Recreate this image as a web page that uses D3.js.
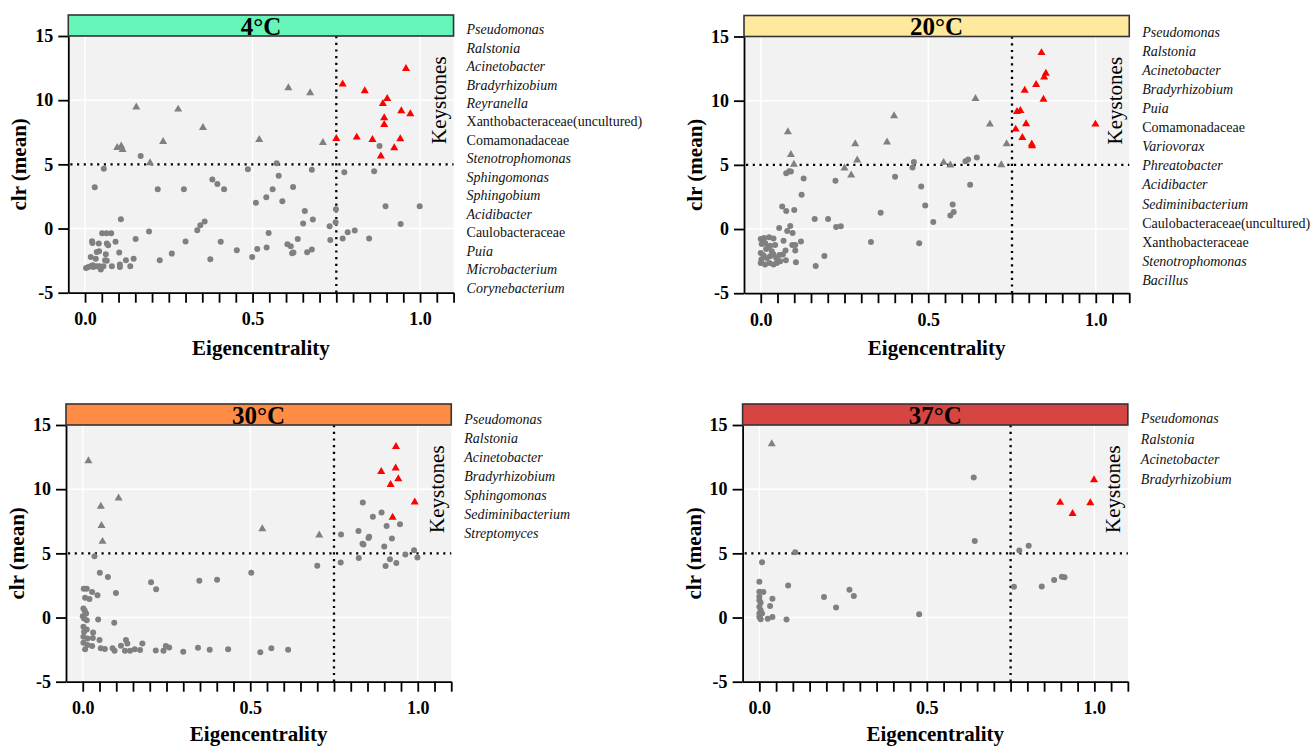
<!DOCTYPE html>
<html>
<head>
<meta charset="utf-8">
<script src="https://cdn.jsdelivr.net/npm/d3@7"></script>
<style>
  body { margin: 0; background: #fff; }
  svg { display: block; }
  text { font-family: "Liberation Serif", "Times New Roman", serif; }
</style>
</head>
<body>
<svg id="chart" width="1312" height="746"></svg>
<script>
// ---- data: [eigencentrality, clr(mean)] per taxon ----
const panelTitles = ["4°C", "20°C", "30°C", "37°C"];

// 4 °C
const keystones4 = [[0.958,12.46],[0.769,11.24],[0.835,10.72],[0.902,10.12],[0.889,9.73],[0.944,9.16],[0.971,8.93],[0.893,8.61],[0.893,8.10],[0.750,7.00],[0.811,7.11],[0.858,6.93],[0.941,6.98],[0.923,6.28],[0.883,5.63]];
const hubs4 = [[0.607,10.95],[0.672,10.56],[0.153,9.45],[0.278,9.29],[0.352,7.86],[0.233,6.77],[0.520,6.93],[0.710,6.69],[0.096,6.30],[0.108,6.41],[0.112,6.15],[0.194,5.11]];
const others4 = [[0.879,6.43],[0.774,4.39],[0.863,4.46],[0.677,4.57],[0.572,5.09],[0.486,4.62],[0.056,4.65],[0.029,3.22],[0.166,5.65],[0.578,4.12],[0.380,3.81],[0.395,3.47],[0.415,3.06],[0.217,3.06],[0.295,3.06],[0.621,3.24],[0.560,3.06],[0.541,2.44],[0.510,2.00],[0.589,2.13],[0.897,1.74],[0.999,1.74],[0.749,1.50],[0.656,1.37],[0.680,0.70],[0.651,0.39],[0.748,0.49],[0.942,0.36],[0.107,0.72],[0.357,0.54],[0.344,0.26],[0.335,-0.13],[0.191,-0.24],[0.548,-0.34],[0.730,0.18],[0.805,-0.16],[0.784,-0.29],[0.769,-0.78],[0.732,-0.89],[0.848,-0.78],[0.635,-0.81],[0.604,-1.22],[0.614,-1.38],[0.622,-1.87],[0.618,-1.92],[0.663,-1.85],[0.677,-1.64],[0.542,-1.48],[0.514,-1.59],[0.499,-2.21],[0.453,-1.69],[0.405,-1.04],[0.374,-2.39],[0.300,-1.01],[0.259,-1.95],[0.223,-2.47],[0.151,-0.81],[0.145,-2.36],[0.135,-2.93],[0.122,-2.47],[0.102,-1.87],[0.104,-2.80],[0.091,-1.04],[0.064,-0.37],[0.078,-0.37],[0.051,-0.37],[0.021,-0.99],[0.022,-1.12],[0.041,-1.17],[0.065,-1.17],[0.069,-1.30],[0.035,-1.82],[0.042,-1.77],[0.017,-2.21],[0.062,-2.00],[0.065,-2.52],[0.032,-2.36],[0.023,-2.86],[0.035,-2.93],[0.047,-3.20],[0.003,-3.07],[0.010,-3.00],[0.017,-2.93],[0.025,-3.00],[0.055,-2.93],[0.080,-2.93],[0.104,-3.00],[0.043,-2.93],[0.060,-2.47]];
const taxa4 = ["Pseudomonas","Ralstonia","Acinetobacter","Bradyrhizobium","Reyranella","Xanthobacteraceae(uncultured)","Comamonadaceae","Stenotrophomonas","Sphingomonas","Sphingobium","Acidibacter","Caulobacteraceae","Puia","Microbacterium","Corynebacterium"];

// 20 °C
const keystones20 = [[0.838,13.73],[0.851,12.12],[0.846,11.84],[0.822,11.24],[0.788,10.80],[0.844,10.10],[0.999,8.16],[0.765,9.15],[0.775,9.22],[0.792,8.19],[0.761,7.77],[0.781,7.12],[0.809,6.61],[0.810,6.48]];
const hubs20 = [[0.641,10.16],[0.398,8.81],[0.684,8.16],[0.081,7.56],[0.734,6.63],[0.282,6.63],[0.377,6.76],[0.090,5.80],[0.288,5.36],[0.250,4.74],[0.270,4.20],[0.099,5.03],[0.546,5.18],[0.566,4.97],[0.718,5.00]];
const others20 = [[0.457,5.23],[0.453,4.79],[0.611,5.28],[0.619,5.41],[0.645,5.57],[0.401,4.07],[0.479,3.32],[0.625,3.45],[0.223,3.76],[0.128,3.94],[0.122,2.67],[0.076,4.35],[0.085,4.51],[0.090,4.48],[0.064,1.76],[0.076,1.40],[0.100,1.48],[0.161,0.78],[0.201,0.78],[0.225,0.16],[0.239,0.21],[0.358,1.27],[0.491,1.84],[0.515,0.54],[0.573,1.92],[0.576,1.32],[0.566,1.06],[0.329,-1.01],[0.473,-1.11],[0.190,-2.10],[0.164,-2.88],[0.055,0.08],[0.088,0.23],[0.079,-0.16],[0.095,-0.31],[0.120,-0.98],[0.094,-1.24],[0.103,-1.24],[0.103,-1.68],[0.105,-2.59],[0.068,-0.91],[0.074,-1.68],[0.075,-2.44],[0.056,-2.02],[0.043,-1.24],[0.038,-0.73],[0.025,-0.65],[0.000,-0.78],[0.010,-0.70],[0.003,-1.17],[0.013,-1.09],[0.023,-1.40],[0.033,-1.74],[0.000,-1.87],[0.008,-2.05],[0.018,-2.25],[0.028,-2.12],[0.038,-1.99],[0.000,-2.64],[0.013,-2.77],[0.026,-2.64],[0.038,-2.77],[0.048,-2.64],[0.058,-2.51],[0.046,-2.25],[0.002,-2.38],[0.016,-1.55],[0.028,-1.30],[0.066,-1.99]];
const taxa20 = ["Pseudomonas","Ralstonia","Acinetobacter","Bradyrhizobium","Puia","Comamonadaceae","Variovorax","Phreatobacter","Acidibacter","Sediminibacterium","Caulobacteraceae(uncultured)","Xanthobacteraceae","Stenotrophomonas","Bacillus"];

// 30 °C
const keystones30 = [[0.935,13.31],[0.891,11.37],[0.934,11.63],[0.942,10.80],[0.919,10.36],[0.991,8.99],[0.925,7.80]];
const hubs30 = [[0.017,12.20],[0.107,9.30],[0.054,8.66],[0.056,7.16],[0.059,5.92],[0.536,6.90],[0.706,6.41]];
const others30 = [[0.836,8.97],[0.866,7.86],[0.892,8.19],[0.907,7.13],[0.947,7.26],[0.771,6.46],[0.823,6.74],[0.855,6.30],[0.853,6.20],[0.835,5.74],[0.838,5.68],[0.923,6.15],[0.900,5.53],[0.989,5.25],[0.963,4.91],[0.999,4.68],[0.824,4.63],[0.917,4.55],[0.936,4.24],[0.904,4.01],[0.770,4.29],[0.700,4.03],[0.503,3.49],[0.035,4.78],[0.051,3.49],[0.075,3.15],[0.204,2.74],[0.219,2.20],[0.348,2.87],[0.401,2.95],[0.099,1.91],[0.003,2.25],[0.012,2.25],[0.028,1.99],[0.044,1.73],[0.007,1.55],[0.020,1.45],[0.002,0.70],[0.006,0.52],[0.010,0.31],[0.000,0.10],[0.004,-0.08],[0.012,-0.21],[0.046,-0.16],[0.094,-0.41],[0.002,-0.72],[0.012,-0.93],[0.004,-1.11],[0.031,-1.16],[0.002,-1.50],[0.014,-1.63],[0.030,-1.60],[0.050,-1.76],[0.002,-1.96],[0.014,-2.14],[0.028,-2.22],[0.007,-2.48],[0.054,-2.40],[0.066,-2.45],[0.089,-2.40],[0.095,-2.58],[0.114,-2.20],[0.129,-1.76],[0.133,-2.02],[0.126,-2.58],[0.141,-2.58],[0.155,-2.48],[0.171,-2.53],[0.178,-2.02],[0.218,-2.56],[0.241,-2.58],[0.248,-2.22],[0.258,-2.33],[0.300,-2.66],[0.344,-2.35],[0.379,-2.51],[0.434,-2.48],[0.530,-2.71],[0.563,-2.40],[0.613,-2.51]];
const taxa30 = ["Pseudomonas","Ralstonia","Acinetobacter","Bradyrhizobium","Sphingomonas","Sediminibacterium","Streptomyces"];

// 37 °C
const keystones37 = [[0.999,10.73],[0.898,8.96],[0.988,8.93],[0.935,8.10]];
const hubs37 = [[0.037,13.52]];
const others37 = [[0.640,10.91],[0.643,5.96],[0.776,5.23],[0.804,5.60],[0.107,5.08],[0.008,4.30],[0.000,2.79],[0.760,2.40],[0.843,2.42],[0.880,2.92],[0.903,3.18],[0.911,3.13],[0.086,2.50],[0.193,1.59],[0.229,0.78],[0.269,2.16],[0.282,1.67],[0.477,0.26],[0.081,-0.16],[0.039,1.46],[0.032,0.89],[0.039,0.05],[0.025,-0.10],[0.000,2.01],[0.012,1.98],[0.000,1.61],[0.004,1.15],[0.000,0.83],[0.004,0.57],[0.000,0.31],[0.008,0.31],[0.000,0.05],[0.004,-0.13],[0.000,1.35]];
const taxa37 = ["Pseudomonas","Ralstonia","Acinetobacter","Bradyrhizobium"];

const xTicks = d3.range(0, 1.1001, 0.05);
const xLabelTicks = [0, 0.5, 1.0];
const yTicks = [-5, 0, 5, 10, 15];
const eigenCut = 0.75;
const clrCut = 5;

// ---- layout and styling ----
const stripFill = ["#66F5B9", "#FFE99D", "#FF8C45", "#D64541"];
const panelData = [
  { key: keystones4,  hub: hubs4,  other: others4,  taxa: taxa4 },
  { key: keystones20, hub: hubs20, other: others20, taxa: taxa20 },
  { key: keystones30, hub: hubs30, other: others30, taxa: taxa30 },
  { key: keystones37, hub: hubs37, other: others37, taxa: taxa37 }
];
const frames = [
  { left: 68.3,  top: 36,   listTop: 29.3,  listGap: 18.45, titleGap: 62 },
  { left: 744,   top: 36.5, listTop: 31.7,  listGap: 19.1,  titleGap: 62 },
  { left: 66,    top: 425,  listTop: 419,   listGap: 18.95, titleGap: 59 },
  { left: 742.6, top: 425,  listTop: 418.3, listGap: 20.3,  titleGap: 59 }
];
const plotW = 385.25, plotH = 256.7, stripH = 21;
const grey = "#808080", keyRed = "#FF0000";

const svg = d3.select("#chart");

frames.forEach((f, i) => {
  const d = panelData[i];
  const x = d3.scaleLinear().domain([-0.05, 1.1]).range([f.left, f.left + plotW]);
  const y = d3.scaleLinear().domain([-5, 15]).range([f.top + plotH, f.top]);
  const g = svg.append("g");

  // panel background
  g.append("rect")
    .attr("x", f.left).attr("y", f.top)
    .attr("width", plotW).attr("height", plotH)
    .attr("fill", "#F2F2F2");

  // major grid lines
  g.selectAll(".gx").data(xLabelTicks).join("line")
    .attr("x1", v => x(v)).attr("x2", v => x(v))
    .attr("y1", f.top).attr("y2", f.top + plotH)
    .attr("stroke", "#fff").attr("stroke-width", 1.4);
  g.selectAll(".gy").data(yTicks.filter(v => v > -5 && v < 15)).join("line")
    .attr("x1", f.left).attr("x2", f.left + plotW)
    .attr("y1", v => y(v)).attr("y2", v => y(v))
    .attr("stroke", "#fff").attr("stroke-width", 1.4);

  // threshold lines
  const dot = { "stroke": "#000", "stroke-width": 2.3, "stroke-dasharray": "2.2,4.5" };
  const vline = g.append("line")
    .attr("x1", x(eigenCut)).attr("x2", x(eigenCut))
    .attr("y1", f.top).attr("y2", f.top + plotH);
  const hline = g.append("line")
    .attr("x1", f.left + 2).attr("x2", f.left + plotW)
    .attr("y1", y(clrCut)).attr("y2", y(clrCut));
  [vline, hline].forEach(l => Object.entries(dot).forEach(([k, v]) => l.attr(k, v)));

  // points
  const tri = d3.symbol().type(d3.symbolTriangle).size(28);
  g.selectAll(".pt-o").data(d.other).join("circle")
    .attr("cx", p => x(p[0])).attr("cy", p => y(p[1]))
    .attr("r", 3).attr("fill", grey);
  g.selectAll(".pt-h").data(d.hub).join("path")
    .attr("d", tri)
    .attr("transform", p => `translate(${x(p[0])},${y(p[1])})`)
    .attr("fill", grey);
  g.selectAll(".pt-k").data(d.key).join("path")
    .attr("d", tri)
    .attr("transform", p => `translate(${x(p[0])},${y(p[1])})`)
    .attr("fill", keyRed);

  // quadrant label
  g.append("text")
    .attr("transform", `translate(${f.left + plotW - 7.5},${y(10)}) rotate(-90)`)
    .attr("text-anchor", "middle")
    .attr("font-size", 21)
    .attr("fill", "#000")
    .text("Keystones");

  // axes
  const xAxis = d3.axisBottom(x)
    .tickValues(xTicks)
    .tickSize(10).tickSizeOuter(0).tickPadding(10)
    .tickFormat(v => xLabelTicks.some(t => Math.abs(t - v) < 1e-9) ? d3.format(".1f")(v) : "");
  const ax = g.append("g").attr("transform", `translate(0,${f.top + plotH})`).call(xAxis);
  ax.selectAll("path, line").attr("stroke", "#000").attr("stroke-width", 1.8);
  ax.selectAll("text").attr("font-size", 18).attr("font-weight", "bold").attr("fill", "#000")
    .attr("font-family", "'Liberation Serif', 'Times New Roman', serif");

  const yAxis = d3.axisLeft(y)
    .tickValues(yTicks)
    .tickSize(10).tickSizeOuter(0).tickPadding(5)
    .tickFormat(v => String(v));
  const ay = g.append("g").attr("transform", `translate(${f.left},0)`).call(yAxis);
  ay.selectAll("path, line").attr("stroke", "#000").attr("stroke-width", 1.8);
  ay.selectAll("text").attr("font-size", 18).attr("font-weight", "bold").attr("fill", "#000")
    .attr("font-family", "'Liberation Serif', 'Times New Roman', serif");

  // strip header
  g.append("rect")
    .attr("x", f.left).attr("y", f.top - stripH)
    .attr("width", plotW).attr("height", stripH)
    .attr("fill", stripFill[i]).attr("stroke", "#333").attr("stroke-width", 1.6);
  g.append("text")
    .attr("x", f.left + plotW / 2).attr("y", f.top - 1.2)
    .attr("text-anchor", "middle")
    .attr("font-size", 25).attr("font-weight", "bold").attr("fill", "#000")
    .text(panelTitles[i]);

  // axis titles
  g.append("text")
    .attr("x", f.left + plotW / 2).attr("y", f.top + plotH + f.titleGap)
    .attr("text-anchor", "middle")
    .attr("font-size", 21).attr("font-weight", "bold").attr("fill", "#000")
    .text("Eigencentrality");
  g.append("text")
    .attr("transform", `translate(${f.left - 42},${f.top + plotH / 2}) rotate(-90)`)
    .attr("text-anchor", "middle")
    .attr("font-size", 21).attr("font-weight", "bold").attr("fill", "#000")
    .text("clr (mean)");

  // keystone taxa list
  g.selectAll(".taxon").data(d.taxa).join("text")
    .attr("x", f.left + plotW + 13)
    .attr("y", (t, k) => f.listTop + k * f.listGap)
    .attr("dy", "0.35em")
    .attr("font-size", 14)
    .attr("font-style", t => /aceae/.test(t) ? "normal" : "italic")
    .attr("fill", "#111")
    .text(t => t);
});
</script>
</body>
</html>
